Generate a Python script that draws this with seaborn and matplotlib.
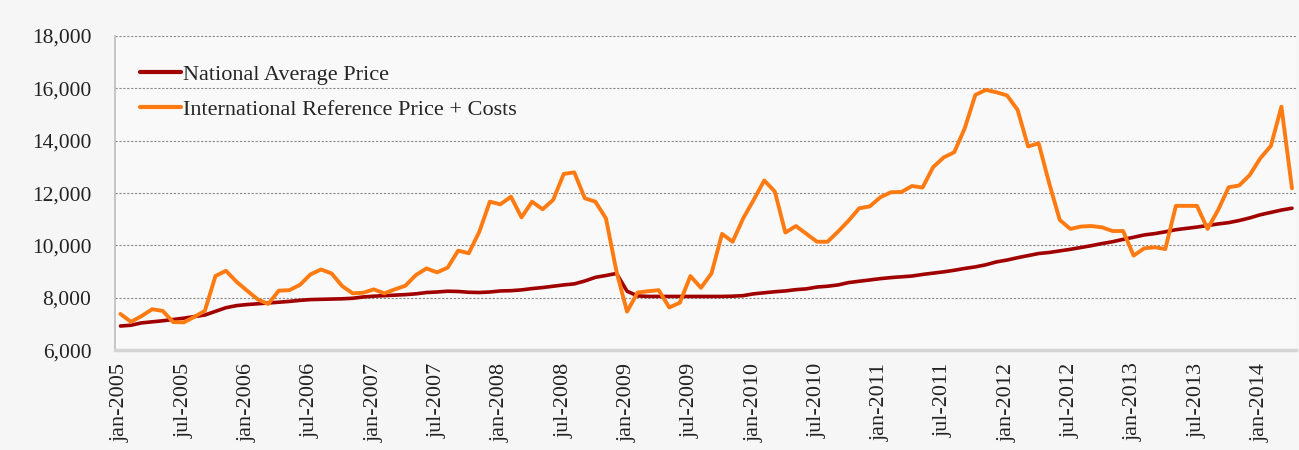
import numpy as np
import pandas as pd
import matplotlib
matplotlib.use("Agg")
import matplotlib.pyplot as plt
import seaborn as sns
from matplotlib.ticker import FuncFormatter

# monthly series, jan-2005 .. apr-2014
national_avg = [
    6920, 6950, 7040, 7080, 7120, 7170, 7220, 7280, 7340, 7480, 7620, 7700,
    7740, 7770, 7800, 7830, 7860, 7900, 7930, 7940, 7950, 7960, 7980, 8030,
    8060, 8080, 8100, 8120, 8150, 8200, 8220, 8250, 8240, 8210, 8200, 8220,
    8260, 8270, 8300, 8350, 8390, 8440, 8490, 8530, 8640, 8780, 8850, 8930,
    8250, 8070, 8050, 8050, 8050, 8050, 8050, 8050, 8050, 8050, 8060, 8080,
    8150, 8190, 8230, 8260, 8310, 8340, 8410, 8440, 8490, 8580, 8630, 8680,
    8730, 8770, 8800, 8830, 8890, 8940, 8990, 9050, 9120, 9180, 9260, 9370,
    9440, 9530, 9610, 9690, 9730, 9790, 9850, 9920, 9990, 10070, 10140, 10230,
    10310, 10400, 10450, 10520, 10600, 10650, 10700, 10760, 10820, 10870, 10950, 11050,
    11170, 11260, 11350, 11420,
]
intl_ref = [
    7380, 7080, 7300, 7560, 7500, 7070, 7060, 7270, 7500, 8830, 9030, 8610,
    8270, 7940, 7760, 8270, 8290, 8490, 8890, 9080, 8930, 8450, 8170, 8190,
    8320, 8170, 8320, 8460, 8870, 9120, 8970, 9150, 9800, 9700, 10520, 11670,
    11570, 11860, 11070, 11670, 11380, 11740, 12730, 12790, 11800, 11670, 11030, 9000,
    7470, 8200, 8250, 8290, 7630, 7810, 8830, 8380, 8930, 10440, 10140, 11030,
    11740, 12480, 12060, 10490, 10740, 10440, 10140, 10140, 10530, 10950, 11420, 11490,
    11840, 12030, 12040, 12270, 12210, 12990, 13360, 13560, 14480, 15750, 15940, 15850,
    15730, 15180, 13780, 13900, 12370, 10970, 10630, 10720, 10740, 10690, 10550, 10550,
    9610, 9890, 9930, 9860, 11510, 11510, 11510, 10630, 11350, 12220, 12290, 12690,
    13330, 13800, 15300, 12180,
]
tick_labels = [
    "jan-2005", "jul-2005", "jan-2006", "jul-2006", "jan-2007", "jul-2007",
    "jan-2008", "jul-2008", "jan-2009", "jul-2009", "jan-2010", "jul-2010",
    "jan-2011", "jul-2011", "jan-2012", "jul-2012", "jan-2013", "jul-2013",
    "jan-2014",
]
series_names = ["National Average Price", "International Reference Price + Costs"]

df = pd.DataFrame({
    "month": np.arange(len(national_avg)),
    series_names[0]: national_avg,
    series_names[1]: intl_ref,
})
long_df = df.melt(id_vars="month", var_name="series", value_name="price")

sns.set_style("white")
plt.rcParams["font.family"] = ["Liberation Serif", "DejaVu Serif"]

fig = plt.figure(figsize=(12.99, 4.5), dpi=100, facecolor="#f6f6f6")
ax = fig.add_axes([0.0885, 0.222, 0.9095, 0.698])
ax.set_facecolor("#f9f9f9")

sns.lineplot(
    data=long_df, x="month", y="price", hue="series", hue_order=series_names,
    palette=["#a00000", "#ff7b12"], ax=ax, legend=True,
)
for line, lw in zip(ax.get_lines(), [2.6, 2.8]):
    line.set_linewidth(lw)

ax.set_ylim(6000, 18000)
ax.set_yticks(range(6000, 18001, 2000))
ax.yaxis.set_major_formatter(FuncFormatter(lambda v, p: f"{int(v):,}"))
ax.set_xlim(-0.52, 111.42)
ax.set_xticks(range(0, 109, 6))
ax.set_xticklabels(tick_labels, rotation=90)
ax.tick_params(axis="x", labelsize=16, length=0, colors="#222222", pad=9)
ax.tick_params(axis="y", labelsize=15.5, length=0, colors="#222222", pad=17)
ax.set_xlabel("")
ax.set_ylabel("")

ax.grid(axis="y", linestyle=(0, (2, 1.5)), color="#8a8a8a", linewidth=0.8)
ax.set_axisbelow(True)
for side in ["top", "right"]:
    ax.spines[side].set_visible(False)
ax.spines["left"].set_color("#bdbdbd")
ax.spines["left"].set_linewidth(1.2)
ax.spines["bottom"].set_color("#d4d4d4")
ax.spines["bottom"].set_linewidth(2.5)

leg = ax.legend(
    loc="upper left", bbox_to_anchor=(0.021, 0.91), frameon=False,
    fontsize=16, handlelength=1.85, handletextpad=0.1, labelspacing=0.65,
    borderaxespad=0, borderpad=0,
)
for h in leg.get_lines():
    h.set_linewidth(3)

fig.savefig("out.png", dpi=100, facecolor=fig.get_facecolor())
